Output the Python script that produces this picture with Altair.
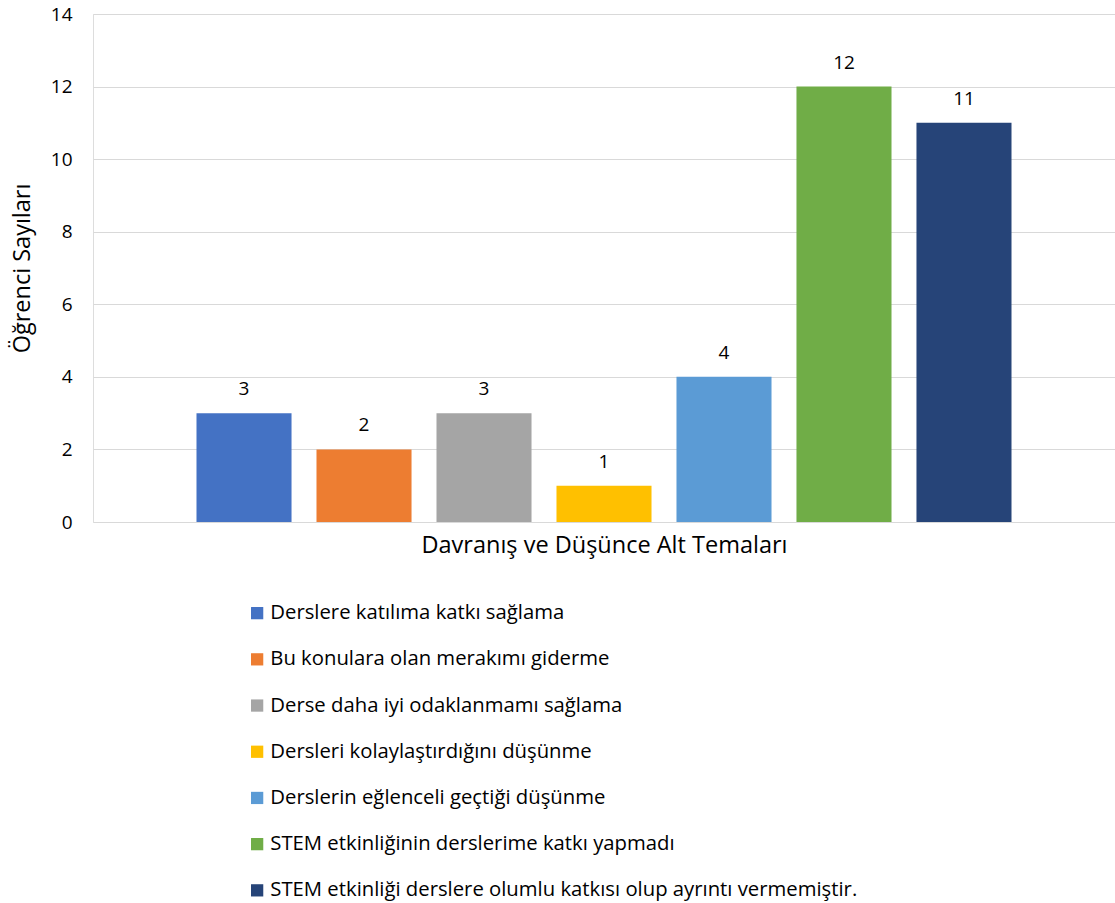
import altair as alt
import pandas as pd

# Sub-themes of behaviour and thought, with student counts
temalar = [
    "Derslere katılıma katkı sağlama",
    "Bu konulara olan merakımı giderme",
    "Derse daha iyi odaklanmamı sağlama",
    "Dersleri kolaylaştırdığını düşünme",
    "Derslerin eğlenceli geçtiği düşünme",
    "STEM etkinliğinin derslerime katkı yapmadı",
    "STEM etkinliği derslere olumlu katkısı olup ayrıntı vermemiştir.",
]
sayilar = [3, 2, 3, 1, 4, 12, 11]
renkler = ["#4472C4", "#ED7D31", "#A5A5A5", "#FFC000", "#5B9BD5", "#70AD47", "#264478"]
y_ticks = [0, 2, 4, 6, 8, 10, 12, 14]

df = pd.DataFrame({"Tema": temalar, "Sayı": sayilar})

FONT = "Open Sans"
FS = 19
TITLE_FS = 23.5

x_enc = alt.X(
    "Tema:N",
    sort=temalar,
    scale=alt.Scale(domain=temalar, paddingInner=0.208, paddingOuter=0.8625),
    axis=alt.Axis(
        labels=False, ticks=False, domain=False, grid=False,
        title="Davranış ve Düşünce Alt Temaları",
        titleFont=FONT, titleFontSize=TITLE_FS, titleFontWeight="normal",
        titleColor="#000000", titlePadding=11,
    ),
)
y_enc = alt.Y(
    "Sayı:Q",
    scale=alt.Scale(domain=[0, 14], nice=False),
    axis=alt.Axis(
        values=y_ticks, ticks=False, domain=False,
        gridColor="#D9D9D9", gridWidth=1.2,
        labelFont=FONT, labelFontSize=FS, labelColor="#000000", labelPadding=21,
        title="Öğrenci Sayıları", titleFont=FONT, titleFontSize=TITLE_FS,
        titleFontWeight="normal", titleColor="#000000", titlePadding=16,
    ),
)

bars = alt.Chart(df).mark_bar().encode(
    x=x_enc,
    y=y_enc,
    color=alt.Color(
        "Tema:N",
        scale=alt.Scale(domain=temalar, range=renkler),
        legend=alt.Legend(
            title=None, orient="none", legendX=154, legendY=589,
            direction="vertical", symbolType="square", symbolSize=150,
            symbolStrokeWidth=0, labelFont=FONT, labelFontSize=20.3,
            labelColor="#000000", rowPadding=25.2, labelOffset=3,
            labelLimit=800, padding=0,
        ),
    ),
)

labels = alt.Chart(df).mark_text(
    font=FONT, fontSize=FS, color="#000000", dy=-14, baseline="bottom"
).encode(
    x=alt.X("Tema:N", sort=temalar),
    y=alt.Y("Sayı:Q"),
    text="Sayı:Q",
)

chart = (
    alt.layer(bars, labels)
    .properties(
        width=1022, height=508,
        autosize=alt.AutoSizeParams(type="none"),
        padding={"left": 93, "top": 14, "right": 0, "bottom": 381},
    )
    .configure_view(strokeWidth=0, stroke="transparent")
    .configure(background="white")
)

chart.save("out.html", embed_options={"renderer": "svg", "actions": False})
